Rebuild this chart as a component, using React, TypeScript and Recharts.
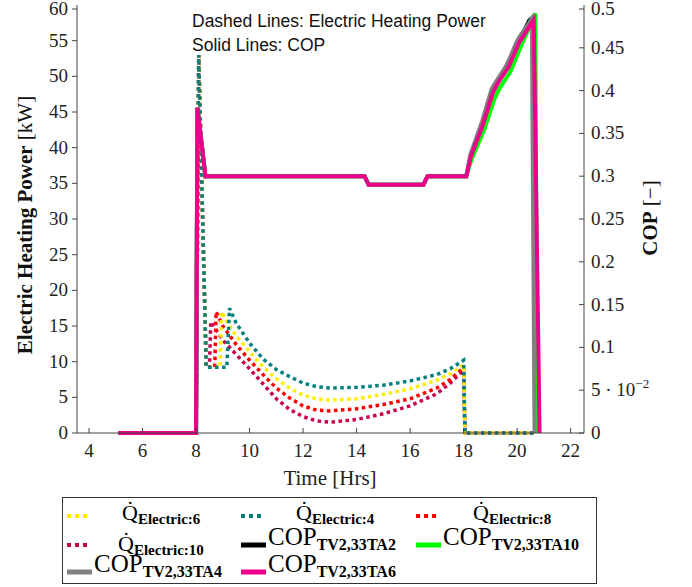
import React from 'react';
import { ComposedChart, Line, XAxis, YAxis } from 'recharts';

// shared start of the electric power curves (spike at 8 h)
const powerStartTime = [5.1, 8.0, 8.1, 8.38];
const powerStartValue = [0, 0, 53, 9.2];

const e4Time = [9.15, 9.25, 9.5, 10, 10.5, 11, 11.5, 12, 12.5, 13, 14, 15, 16, 17, 17.5, 18.0, 18.05, 20.62];
const e4Value = [9.2, 17.5, 15.4, 12.6, 10.4, 8.9, 7.9, 7.0, 6.5, 6.3, 6.4, 6.7, 7.3, 8.2, 9.0, 10.2, 0, 0];
const e6Time = [8.9, 8.95, 9.2, 9.5, 10, 10.5, 11, 11.5, 12, 12.5, 13, 14, 15, 16, 17, 17.5, 18.0, 18.05, 20.62];
const e6Value = [9.2, 17.0, 15.3, 13.6, 11.4, 9.3, 7.6, 6.3, 5.3, 4.8, 4.6, 4.8, 5.4, 6.2, 7.4, 8.3, 9.6, 0, 0];
const e8Time = [8.7, 8.75, 9, 9.5, 10, 10.5, 11, 11.5, 12, 12.5, 13, 14, 15, 16, 17, 17.5, 18.0, 18.05, 20.62];
const e8Value = [9.2, 17.0, 15.0, 12.4, 10.2, 8.2, 6.3, 4.9, 3.8, 3.2, 3.1, 3.4, 4.0, 4.8, 6.3, 7.5, 9.2, 0, 0];
const e10Time = [8.5, 8.55, 9, 9.5, 10, 10.5, 11, 11.5, 12, 12.5, 13, 14, 15, 16, 17, 17.5, 18.0, 18.05, 20.62];
const e10Value = [9.2, 15.6, 13.0, 11.0, 9.0, 6.9, 4.8, 3.3, 2.3, 1.7, 1.5, 1.9, 2.7, 3.8, 5.5, 7.0, 8.8, 0, 0];

// shared start of the COP curves
const copStartTime = [5.1, 8.0, 8.05, 8.35, 14.3, 14.45, 16.5, 16.65, 18.1];
const copStartValue = [0, 0, 0.38, 0.3, 0.3, 0.29, 0.29, 0.3, 0.3];

const ta2Time = [18.27, 18.7, 18.9, 19.1, 19.3, 19.65, 19.75, 20.05, 20.3, 20.45, 20.6, 20.7];
const ta2Cop = [0.323, 0.362, 0.385, 0.402, 0.41, 0.432, 0.438, 0.46, 0.472, 0.482, 0.486, 0];
const ta10Time = [18.3, 18.78, 19.15, 19.35, 19.75, 20.12, 20.68, 20.76];
const ta10Cop = [0.32, 0.355, 0.39, 0.403, 0.422, 0.45, 0.49, 0];
const ta4Time = [18.25, 18.7, 19.05, 19.2, 19.62, 20.0, 20.55, 20.65];
const ta4Cop = [0.325, 0.365, 0.402, 0.41, 0.43, 0.458, 0.484, 0];
const ta6Time = [18.27, 18.72, 19.09, 19.28, 19.69, 20.07, 20.62, 20.84];
const ta6Cop = [0.323, 0.36, 0.397, 0.409, 0.428, 0.456, 0.4825, 0];

const timeTicks = [4, 6, 8, 10, 12, 14, 16, 18, 20, 22];
const powerTicks = [0, 5, 10, 15, 20, 25, 30, 35, 40, 45, 50, 55, 60];
const copTicks = [0, 0.05, 0.1, 0.15, 0.2, 0.25, 0.3, 0.35, 0.4, 0.45, 0.5];
const copTickLabels = ['0', '5e-2', '0.1', '0.15', '0.2', '0.25', '0.3', '0.35', '0.4', '0.45', '0.5'];

const zip = (xs: number[], ys: number[]) => xs.map((x, i) => ({ x, y: ys[i] }));

const powerSeries = [
  { name: '10', color: '#c8004f', data: zip([...powerStartTime, ...e10Time], [...powerStartValue, ...e10Value]) },
  { name: '8', color: '#ff0000', data: zip([...powerStartTime, ...e8Time], [...powerStartValue, ...e8Value]) },
  { name: '6', color: '#ffee00', data: zip([...powerStartTime, ...e6Time], [...powerStartValue, ...e6Value]) },
  { name: '4', color: '#00807f', data: zip([...powerStartTime, ...e4Time], [...powerStartValue, ...e4Value]) },
];

const copSeries = [
  { name: 'TA2', color: '#000000', data: zip([...copStartTime, ...ta2Time], [...copStartValue, ...ta2Cop]) },
  { name: 'TA10', color: '#00ff00', data: zip([...copStartTime, ...ta10Time], [...copStartValue, ...ta10Cop]) },
  { name: 'TA4', color: '#808080', data: zip([...copStartTime, ...ta4Time], [...copStartValue, ...ta4Cop]) },
  { name: 'TA6', color: '#ec008c', data: zip([...copStartTime, ...ta6Time], [...copStartValue, ...ta6Cop]) },
];

const SERIF = '"Liberation Serif", "DejaVu Serif", serif';
const tickFont = { fontFamily: SERIF, fontSize: 19, fill: '#222' };

const BottomTick = (props: any) => {
  const { x, y, payload } = props;
  return (
    <g>
      <line x1={x} x2={x} y1={y} y2={y - 5} stroke="#444" />
      <text x={x} y={y + 24} textAnchor="middle" {...tickFont}>{payload.value}</text>
    </g>
  );
};

const TopTick = (props: any) => {
  const { x, y } = props;
  return <line x1={x} x2={x} y1={y} y2={y + 5} stroke="#444" />;
};

const LeftTick = (props: any) => {
  const { x, y, payload } = props;
  return (
    <g>
      <line x1={x - 5} x2={x} y1={y} y2={y} stroke="#444" />
      <text x={x - 9} y={y + 6} textAnchor="end" {...tickFont}>{payload.value}</text>
    </g>
  );
};

const RightTick = (props: any) => {
  const { x, y, payload } = props;
  const label = copTickLabels[copTicks.indexOf(payload.value)];
  return (
    <g>
      <line x1={x - 5} x2={x} y1={y} y2={y} stroke="#444" />
      {label === '5e-2' ? (
        <text x={x + 7} y={y + 6} {...tickFont}>
          5 · 10<tspan dy={-8} fontSize={13}>−2</tspan>
        </text>
      ) : (
        <text x={x + 7} y={y + 6} {...tickFont}>{label}</text>
      )}
    </g>
  );
};

const DotMark = ({ color }: { color: string }) => (
  <svg width={22} height={8} style={{ position: 'absolute', left: 0, top: -4 }}>
    <line x1={0} x2={22} y1={4} y2={4} stroke={color} strokeWidth={4} strokeDasharray="4 4" />
  </svg>
);

const SolidMark = ({ color }: { color: string }) => (
  <svg width={25} height={8} style={{ position: 'absolute', left: 0, top: -4 }}>
    <line x1={0} x2={25} y1={4} y2={4} stroke={color} strokeWidth={5} />
  </svg>
);

const QLabel = ({ sub }: { sub: string }) => (
  <span style={{ fontFamily: SERIF, fontSize: 22, whiteSpace: 'nowrap' }}>
    {'Q\u0307'}
    <span style={{ fontSize: 15, fontWeight: 'bold', position: 'relative', top: 4 }}>Electric:{sub}</span>
  </span>
);

const CopLabel = ({ sub }: { sub: string }) => (
  <span style={{ fontFamily: SERIF, fontSize: 25, whiteSpace: 'nowrap' }}>
    COP
    <span style={{ fontSize: 16, fontWeight: 'bold', position: 'relative', top: 5 }}>TV2,33{sub}</span>
  </span>
);

const legendItems = [
  { left: 4, top: 18, mark: <DotMark color="#ffee00" />, textLeft: 55, textTop: -17, text: <QLabel sub="6" /> },
  { left: 178, top: 18, mark: <DotMark color="#00807f" />, textLeft: 55, textTop: -17, text: <QLabel sub="4" /> },
  { left: 353, top: 18, mark: <DotMark color="#ff0000" />, textLeft: 57, textTop: -17, text: <QLabel sub="8" /> },
  { left: 4, top: 47, mark: <DotMark color="#c8004f" />, textLeft: 51, textTop: -15, text: <QLabel sub="10" /> },
  { left: 178, top: 47, mark: <SolidMark color="#000000" />, textLeft: 27, textTop: -22, text: <CopLabel sub="TA2" /> },
  { left: 353, top: 47, mark: <SolidMark color="#00ff00" />, textLeft: 27, textTop: -22, text: <CopLabel sub="TA10" /> },
  { left: 4, top: 74, mark: <SolidMark color="#808080" />, textLeft: 27, textTop: -22, text: <CopLabel sub="TA4" /> },
  { left: 178, top: 74, mark: <SolidMark color="#ec008c" />, textLeft: 27, textTop: -22, text: <CopLabel sub="TA6" /> },
];

export default function App() {
  return (
    <div style={{ position: 'absolute', left: 0, top: 0, width: 692, height: 587, background: '#fff' }}>
      <ComposedChart width={692} height={470} margin={{ top: 5, right: 48, left: 30, bottom: 0 }}>
        <XAxis
          xAxisId="bottom"
          type="number"
          dataKey="x"
          domain={[3.55, 22.5]}
          ticks={timeTicks}
          allowDataOverflow
          height={37}
          tickSize={0}
          tickMargin={0}
          stroke="#444"
          tick={<BottomTick />}
        />
        <XAxis
          xAxisId="top"
          orientation="top"
          type="number"
          dataKey="x"
          domain={[3.55, 22.5]}
          ticks={timeTicks}
          allowDataOverflow
          height={0}
          tickSize={0}
          tickMargin={0}
          stroke="#444"
          tick={<TopTick />}
        />
        <YAxis
          yAxisId="left"
          type="number"
          domain={[0, 60]}
          ticks={powerTicks}
          width={47}
          tickSize={0}
          tickMargin={0}
          stroke="#444"
          tick={<LeftTick />}
        />
        <YAxis
          yAxisId="right"
          orientation="right"
          type="number"
          domain={[0, 0.5]}
          ticks={copTicks}
          width={60}
          tickSize={0}
          tickMargin={0}
          stroke="#444"
          tick={<RightTick />}
        />
        {powerSeries.map((s) => (
          <Line
            key={s.name}
            xAxisId="bottom"
            yAxisId="left"
            data={s.data}
            dataKey="y"
            type="linear"
            stroke={s.color}
            strokeWidth={3.5}
            strokeDasharray="3.5 3.5"
            dot={false}
            isAnimationActive={false}
          />
        ))}
        {copSeries.map((s) => (
          <Line
            key={s.name}
            xAxisId="bottom"
            yAxisId="right"
            data={s.data}
            dataKey="y"
            type="linear"
            stroke={s.color}
            strokeWidth={4}
            strokeLinejoin="miter"
            dot={false}
            isAnimationActive={false}
          />
        ))}
      </ComposedChart>

      <div style={{ position: 'absolute', left: 192, top: 9, fontFamily: '"Liberation Sans", Arial, sans-serif', fontSize: 17.5, lineHeight: '24px', color: '#111' }}>
        <div>Dashed Lines: Electric Heating Power</div>
        <div>Solid Lines: COP</div>
      </div>

      <div style={{ position: 'absolute', left: 25, top: 225, transform: 'translate(-50%, -50%) rotate(-90deg)', fontFamily: SERIF, fontSize: 21, whiteSpace: 'nowrap', color: '#111' }}>
        <b>Electric Heating Power</b> [kW]
      </div>
      <div style={{ position: 'absolute', left: 650, top: 218, transform: 'translate(-50%, -50%) rotate(-90deg)', fontFamily: SERIF, fontSize: 21, whiteSpace: 'nowrap', color: '#111' }}>
        <b>COP</b> [−]
      </div>
      <div style={{ position: 'absolute', left: 330, top: 478, transform: 'translate(-50%, -50%)', fontFamily: SERIF, fontSize: 21, whiteSpace: 'nowrap', color: '#222' }}>
        Time [Hrs]
      </div>

      <div style={{ position: 'absolute', left: 62, top: 497, width: 535, height: 87, border: '1.5px solid #333', boxSizing: 'border-box' }}>
        {legendItems.map((it, i) => (
          <div key={i} style={{ position: 'absolute', left: it.left, top: it.top }}>
            {it.mark}
            <div style={{ position: 'absolute', left: it.textLeft, top: it.textTop, lineHeight: '28px' }}>{it.text}</div>
          </div>
        ))}
      </div>
    </div>
  );
}
